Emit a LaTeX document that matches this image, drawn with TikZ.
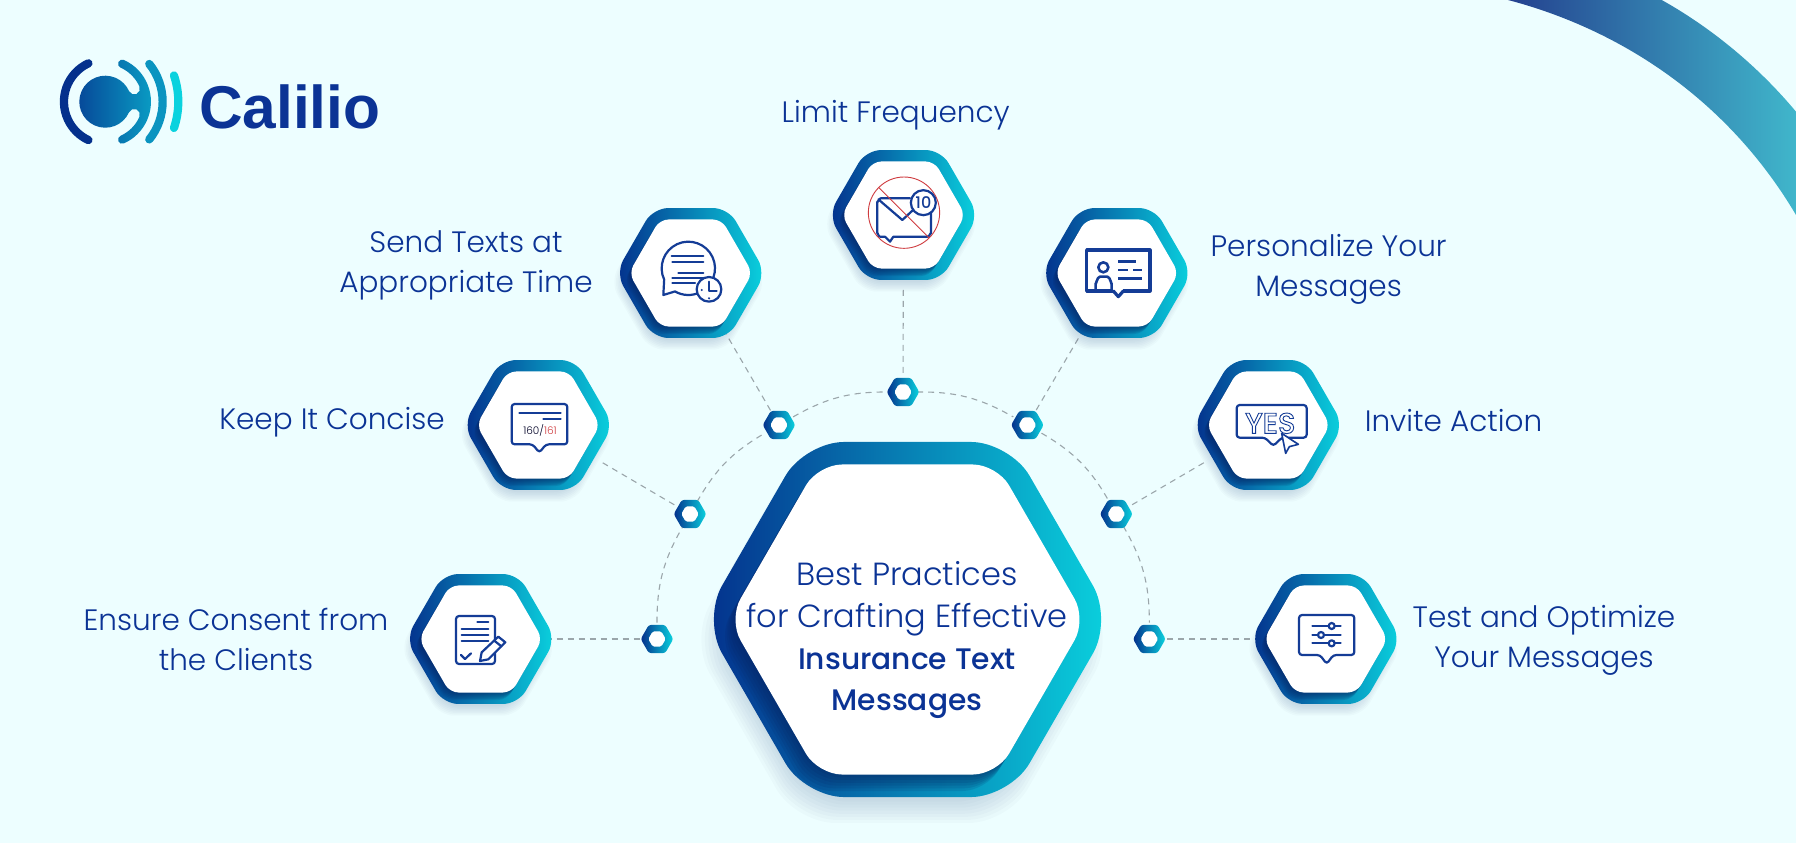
\documentclass[tikz,border=0pt]{standalone}
\usepackage{fontspec}
\usetikzlibrary{shapes.geometric}
\setmainfont{Liberation Sans}
\newfontfamily\lightf{Poppins Light}
\newfontfamily\medf{Poppins Medium}
\newfontfamily\logof{Liberation Sans}[BoldFont={Liberation Sans Bold}]
\definecolor{bgc}{HTML}{EDFEFF}
\definecolor{navy}{HTML}{0B3395}
\definecolor{iconc}{HTML}{143C96}
\definecolor{ringa}{HTML}{04308C}
\definecolor{ringb}{HTML}{0A7AB3}
\definecolor{ringc}{HTML}{0AD2DE}
\definecolor{shad}{HTML}{04205E}
\definecolor{redc}{HTML}{CF3B3F}
\definecolor{linkc}{HTML}{9BA6AA}
\definecolor{archa}{HTML}{24418F}
\definecolor{archb}{HTML}{40B6CB}
\tikzset{
  anchorhex/.style={regular polygon,regular polygon sides=6,shape border rotate=30,inner sep=0pt,outer sep=0pt,minimum size=#1},
  link/.style={draw=linkc,line width=1.1pt,dash pattern=on 6pt off 5pt},
  ringshade/.style={left color=ringa,middle color=ringb,right color=ringc},
  ico/.style={draw=iconc,line width=2.2pt,line cap=round,line join=round},
  iconunit/.style={x=.33333pt,y=-.33333pt},
  lab/.style={text=navy,align=center,font=\lightf\fontsize{29.5}{40}\selectfont},
}
\newcommand{\hexpath}[2]{[rounded corners=#2] (0:#1) -- (60:#1) -- (120:#1) -- (180:#1) -- (240:#1) -- (300:#1) -- cycle}
% name, outer R, outer t, inner R, inner t, scale of shadow
\newcommand{\hexbody}[6]{%
\begin{scope}[shift={(#1.center)}]
  \foreach \k in {0,...,7}{%
    \pgfmathsetmacro{\rr}{#2+(\k-5)*1.6*#6}
    \fill[shad,opacity=.02,shift={(-2.5*#6,9*#6)}] \hexpath{\rr}{#3};
  }
  \shade[ringshade] \hexpath{#2}{#3};
  \begin{scope}
    \clip \hexpath{#2}{#3};
    \foreach \k in {1,...,6}{%
      \fill[shad,opacity=.13,shift={(-.8*\k*#6,1.25*\k*#6)}] \hexpath{#4}{#5};
    }
  \end{scope}
  \fill[white] \hexpath{#4}{#5};
\end{scope}}
\begin{document}
\begin{tikzpicture}[x=1pt,y=-1pt]
\useasboundingbox (0,0) rectangle (1796,843);
\fill[bgc] (0,0) rectangle (1796,843);
% corner arc
\shade[left color=archa,right color=archb] (1508,0) .. controls (1615,28) and (1725,95) .. (1796,215) -- (1796,111.7) .. controls (1757,65) and (1710,27) .. (1661.7,0) -- cycle;
% logo
\begin{scope}[shift={(105.3,101.7)},x=.33333pt,y=.33333pt]
  \draw[line width=8.3pt,line cap=round,draw=ringa] ([shift={(3,0)}]115:127) arc[start angle=115,end angle=245,radius=127];
  \draw[line width=8.2pt,line cap=round,draw=ringb!70!ringc] ([shift={(-8,0)}]39:180) arc[start angle=39,end angle=-39,radius=180];
  \draw[line width=8.2pt,line cap=round,draw=ringc] ([shift={(-27,0)}]18.7:246) arc[start angle=18.7,end angle=-18.7,radius=246];
  \shade[left color=ringa!70!ringb,right color=ringb!55!ringc]
    (66:137) arc[start angle=66,end angle=-66,radius=137]
    arc[start angle=-66,end angle=-246,radius=12.5]
    arc[start angle=-66,end angle=-24,radius=112]
    arc[start angle=-24,end angle=156,radius=17]
    arc[start angle=-24,end angle=-336,radius=78]
    arc[start angle=204,end angle=384,radius=17]
    arc[start angle=24,end angle=66,radius=112]
    arc[start angle=246,end angle=66,radius=12.5] -- cycle;
\end{scope}
\node[anchor=base west,inner sep=0pt,text=navy,font=\logof\bfseries\fontsize{60.4}{62}\selectfont] (logotext) at (199,128) {Calilio};
% anchors
\node[anchorhex=410pt] (center) at (907.5,619.5) {};
\node[anchorhex=150pt] (limit) at (903.5,215) {};
\node[anchorhex=150pt] (send) at (690.7,273) {};
\node[anchorhex=150pt] (pers) at (1116.8,273) {};
\node[anchorhex=150pt] (keep) at (538.3,425) {};
\node[anchorhex=150pt] (invite) at (1268.3,425) {};
\node[anchorhex=150pt] (ensure) at (480.7,639) {};
\node[anchorhex=150pt] (testh) at (1325.8,639) {};
\node[anchorhex=32.6pt] (h1) at (657,639) {};
\node[anchorhex=32.6pt] (h2) at (690,514) {};
\node[anchorhex=32.6pt] (h3) at (779,425) {};
\node[anchorhex=32.6pt] (h4) at (903,392) {};
\node[anchorhex=32.6pt] (h5) at (1027.4,425) {};
\node[anchorhex=32.6pt] (h6) at (1116.3,514) {};
\node[anchorhex=32.6pt] (h7) at (1149.3,639) {};
% connectors
\draw[link] (h1) to[bend left=15] (h2);
\draw[link] (h2) to[bend left=15] (h3);
\draw[link] (h3) to[bend left=15] (h4);
\draw[link] (h4) to[bend left=15] (h5);
\draw[link] (h5) to[bend left=15] (h6);
\draw[link] (h6) to[bend left=15] (h7);
\draw[link] (ensure) -- (h1);
\draw[link] (keep) -- (h2);
\draw[link] (send) -- (h3);
\draw[link] (limit) -- (h4);
\draw[link] (pers) -- (h5);
\draw[link] (invite) -- (h6);
\draw[link] (testh) -- (h7);
% hexagons
\hexbody{center}{205}{39}{179}{24}{2.2}
\foreach \n in {limit,send,pers,keep,invite,ensure,testh}{\hexbody{\n}{75}{15}{61.8}{8.7}{1}}
\foreach \n in {h1,h2,h3,h4,h5,h6,h7}{%
\begin{scope}[shift={(\n.center)}]
  \shade[ringshade] \hexpath{16.3}{2.5};
  \fill[white] \hexpath{8.7}{1.5};
\end{scope}}
% labels
\node[lab] (tlimit) at (895.7,115.4) {Limit Frequency};
\node[lab] (tsend) at (466,265.4) {Send Texts at\\Appropriate Time};
\node[lab] (tpers) at (1328.6,269.4) {Personalize Your\\Messages};
\node[lab] (tkeep) at (332,422.4) {Keep It Concise};
\node[lab] (tinv) at (1453.5,421) {Invite Action};
\node[lab] (tens) at (236,639.4) {Ensure Consent from\\the Clients};
\node[lab] (ttest) at (1544,640.4) {Test and Optimize\\Your Messages};
\node[text=navy,align=center,font=\lightf\fontsize{32}{41.7}\selectfont] (tcenter) at (907,640.4) {Best Practices\\for Crafting Effective\\{\medf\fontsize{29.7}{41.7}\selectfont Insurance Text}\\{\medf\fontsize{29.7}{41.7}\selectfont Messages}};
% icon: send
\begin{scope}[shift={(645,230)},iconunit]
  \draw[ico] (130,115) ++(155:80) arc[start angle=155,end angle=480,radius=80] -- (55,195) -- cycle;
  \foreach \a/\b/\c in {80/175/78,82/175/97,100/175/128,82/175/143,82/150/160}{\draw[ico] (\a,\c) -- (\b,\c);}
  \draw[ico,fill=white] (192,178) circle[radius=37];
  \draw[ico] (192,155) -- (192,182) -- (215,182);
  \fill[iconc] (170,180) circle[radius=3.5] (192,205) circle[radius=3.5];
\end{scope}
% icon: limit
\begin{scope}[shift={(860,170)},iconunit]
  \draw[ico] (75,200) -- (60,200) to[out=180,in=90] (52,190) -- (52,95) to[out=-90,in=180] (62,85) -- (150,85)
     (213,125) -- (213,190) to[out=90,in=0] (203,200) -- (100,200) -- (90,215) -- (75,200)
     (55,88) -- (127,150) -- (157,122);
  \draw[draw=redc,line width=.9pt] (132,128) circle[radius=107];
  \draw[draw=redc,line width=.9pt] (56,52) -- (207,203);
  \node[circle,draw=iconc,line width=2.2pt,fill=white,minimum size=25pt,inner sep=0pt,text=iconc,font=\medf\fontsize{16}{16}\selectfont] (ten) at (190,98) {10};
\end{scope}
% icon: personalize
\begin{scope}[shift={(1070,230)},iconunit]
  \draw[ico,line width=3.2pt] (50,60) rectangle (240,183);
  \fill[white] (130,178) rectangle (160,190);
  \draw[ico,line width=3.2pt] (130,183) -- (145,200) -- (160,183);
  \draw[ico,line width=2.6pt] (100,112) circle[radius=15];
  \draw[ico,line width=2.6pt] (77,180) -- (77,160) to[out=-90,in=180] (90,140) -- (112,140) to[out=0,in=-90] (125,160) -- (125,180);
  \foreach \a/\b/\c in {145/198/95,145/175/120,190/215/120,145/215/145}{\draw[ico,line width=2.8pt,line cap=butt] (\a,\c) -- (\b,\c);}
\end{scope}
% icon: yes
\begin{scope}[shift={(1225,385)},iconunit]
  \draw[ico,rounded corners=3pt] (120,158) -- (35,158) -- (35,60) -- (245,60) -- (245,158) -- (170,158) -- (145,183) -- cycle;
  \node[text=iconc,inner sep=0pt,font=\medf\fontsize{29}{29}\selectfont] (yes) at (136,115) {\special{pdf:code q 1 Tr 0.9 w}YES\special{pdf:code Q}};
  \draw[ico,fill=white,line width=1.6pt] (170,145) -- (220,178) -- (193,185) -- (182,205) -- cycle;
\end{scope}
% icon: ensure
\begin{scope}[shift={(445,600)},iconunit]
  \draw[ico,rounded corners=3pt] (150,118) -- (150,48) -- (33,48) -- (33,192) -- (150,192) -- (150,155);
  \foreach \a/\b/\c in {97/130/67,50/130/87,50/130/105,50/130/124}{\draw[ico] (\a,\c) -- (\b,\c);}
  \draw[ico] (48,165) -- (60,177) -- (78,160);
  \draw[ico,fill=white] (105,183) -- (110,157) -- (160,110) -- (181,127) -- (130,178) -- cycle;
  \draw[ico] (148,122) -- (169,139);
\end{scope}
% icon: keep
\begin{scope}[shift={(400,340)},iconunit]
  \draw[ico,rounded corners=3pt] (398,313) -- (335,313) -- (335,192) -- (502,192) -- (502,313) -- (438,313) -- (418,338) -- cycle;
  \foreach \a/\b/\c in {358/482/220,430/482/236}{\draw[ico] (\a,\c) -- (\b,\c);}
  \node[inner sep=0pt,text=black!85!blue,font=\lightf\fontsize{10.5}{11}\selectfont] (count) at (420,272) {160/\textcolor{redc}{161}};
\end{scope}
% icon: test
\begin{scope}[shift={(1100,340)},iconunit]
  \draw[ico,rounded corners=3pt] (660,945) -- (597,945) -- (597,825) -- (763,825) -- (763,945) -- (700,945) -- (680,972) -- cycle;
  \foreach \c/\k in {858/695,885/663,910/695}{\draw[ico] (637,\c) -- (722,\c); \draw[ico,fill=white] (\k,\c) circle[radius=9];}
\end{scope}
\end{tikzpicture}
\end{document}
